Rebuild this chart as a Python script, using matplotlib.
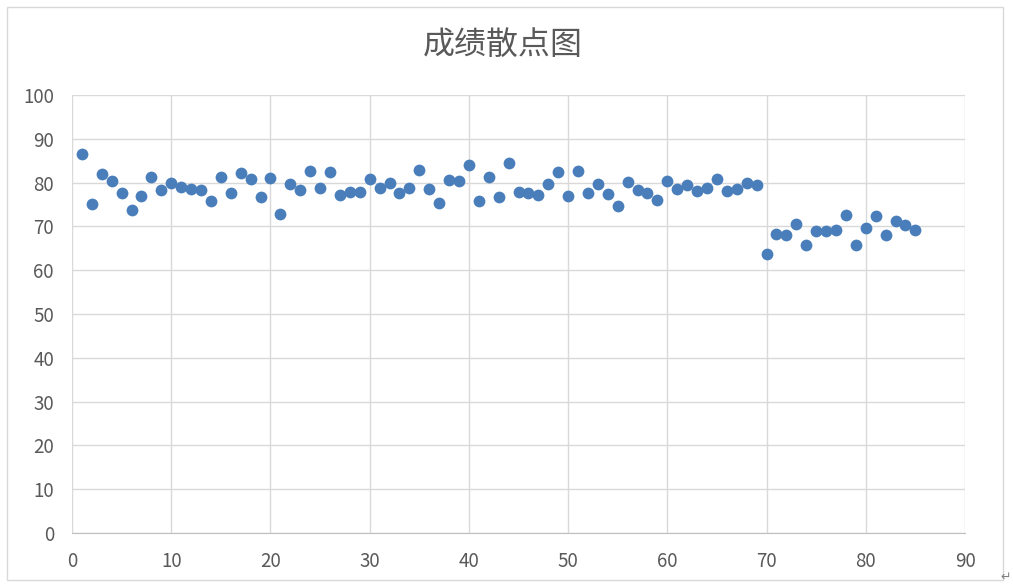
import matplotlib.pyplot as plt
from matplotlib.patches import Rectangle

plt.rcParams['font.family'] = ['Noto Sans CJK SC', 'DejaVu Sans']

# 学号 / 成绩
ids = list(range(1, 86))
scores = [86.6, 75.1, 82.0, 80.4, 77.6, 73.7, 76.9, 81.3, 78.3, 79.9,
          79.0, 78.5, 78.3, 75.8, 81.3, 77.6, 82.2, 80.8, 76.7, 81.1,
          72.8, 79.7, 78.3, 82.6, 78.8, 82.4, 77.2, 77.9, 77.9, 80.8,
          78.8, 79.9, 77.6, 78.8, 82.9, 78.5, 75.3, 80.6, 80.4, 84.0,
          75.8, 81.3, 76.7, 84.5, 77.9, 77.6, 77.2, 79.7, 82.4, 76.9,
          82.6, 77.6, 79.7, 77.4, 74.7, 80.1, 78.3, 77.6, 76.0, 80.4,
          78.5, 79.5, 78.1, 78.8, 80.8, 78.1, 78.5, 79.9, 79.5, 63.7,
          68.3, 68.0, 70.5, 65.8, 68.9, 68.9, 69.2, 72.6, 65.8, 69.6,
          72.4, 68.0, 71.2, 70.3, 69.2]
x_ticks = list(range(0, 91, 10))
y_ticks = list(range(0, 101, 10))
title = '成绩散点图'

W, H = 1013, 588
fig = plt.figure(figsize=(W / 100, H / 100), dpi=100)
ax = fig.add_axes([72 / W, 1 - 533 / H, (965 - 72) / W, (533 - 95) / H])

# outer chart border
fig.patches.append(Rectangle((7 / W, 1 - 580 / H), 996 / W, 573 / H,
                             transform=fig.transFigure, fill=False,
                             edgecolor='#d9d9d9', linewidth=1))

ax.scatter(ids, scores, s=72, color='#4a7ebb', zorder=3, linewidths=0)

ax.set_xlim(0, 90)
ax.set_ylim(0, 100)
ax.set_xticks(x_ticks)
ax.set_yticks(y_ticks)
ax.grid(True, color='#d9d9d9', linewidth=1)
ax.set_axisbelow(True)
for side in ['top', 'right', 'left']:
    ax.spines[side].set_visible(False)
ax.spines['bottom'].set_color('#bfbfbf')
ax.tick_params(axis='both', length=0, labelsize=13.5, labelcolor='#595959')
ax.tick_params(axis='x', pad=13)
ax.tick_params(axis='y', pad=13)

fig.text(503 / W, 1 - 45 / H, title, ha='center', va='center',
         fontsize=23, color='#595959', fontweight='light')
fig.text(1006 / W, 1 - 577 / H, '↵', ha='center', va='center',
         fontsize=9, color='#808080', family=['DejaVu Sans'])

fig.savefig('out.png', dpi=100)
